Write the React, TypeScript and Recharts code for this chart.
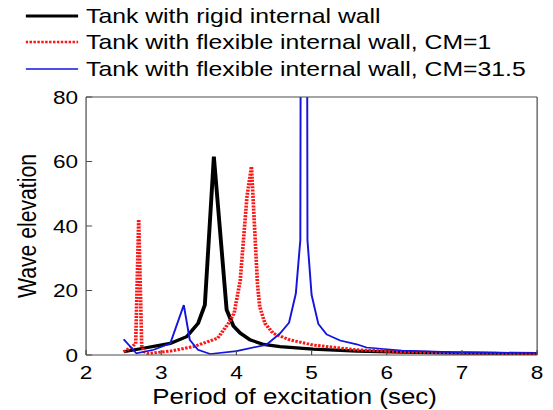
import { Legend, Line, LineChart, XAxis, YAxis } from "recharts";

// periods (sec) and wave elevations
const rigidX = [2.5, 2.76, 3.12, 3.34, 3.49, 3.58, 3.7, 3.87, 3.96, 4.05, 4.18, 4.36, 4.58, 5.02, 5.6, 6.2, 7.0, 8.0];
const rigidY = [1.0, 2.1, 3.6, 5.7, 9.8, 15.5, 61.5, 14, 9, 6.8, 4.7, 3.3, 2.6, 1.8, 1.2, 0.9, 0.6, 0.4];

const flexCm1X = [2.5, 2.6, 2.66, 2.7, 2.74, 2.77, 2.83, 3.12, 3.43, 3.75, 3.9, 3.97, 4.05, 4.14, 4.2, 4.28, 4.31, 4.38, 4.49, 4.71, 5.02, 5.6, 6.2, 7.0, 8.0];
const flexCm1Y = [1.0, 2.4, 3.5, 42, 3, 1.0, 0.5, 1.2, 2.6, 5.2, 10, 13, 23, 49, 58.4, 22, 15, 9.8, 6.7, 4.7, 3.1, 1.6, 1.0, 0.6, 0.4];

const flexCm315X = [2.5, 2.67, 2.9, 3.12, 3.3, 3.38, 3.49, 3.65, 4.0, 4.4, 4.58, 4.7, 4.79, 4.85, 4.9, 4.945, 5.0, 5.09, 5.2, 5.38, 5.6, 5.73, 6.2, 6.85, 8.0];
const flexCm315Y = [4.9, 0.5, 1.6, 3.6, 15.5, 4.7, 1.6, 0.3, 1.2, 3.2, 6.7, 10, 19, 35.6, 700, 35.6, 18.6, 9.6, 6.4, 4.5, 3.3, 2.3, 1.4, 0.9, 0.6];

const xTicks = [2, 3, 4, 5, 6, 7, 8];
const yTicks = [0, 20, 40, 60, 80];

const toRows = (xs: number[], ys: number[]) => xs.map((x, i) => ({ x, y: ys[i] }));

const series = [
  { name: "Tank with rigid internal wall", data: toRows(rigidX, rigidY), color: "#000000", width: 3.2, dash: undefined, legendWidth: 3 },
  { name: "Tank with flexible internal wall, CM=1", data: toRows(flexCm1X, flexCm1Y), color: "#ff1414", width: 3, dash: "2 1.2", legendWidth: 2.5 },
  { name: "Tank with flexible internal wall, CM=31.5", data: toRows(flexCm315X, flexCm315Y), color: "#1414e0", width: 1.6, dash: undefined, legendWidth: 1.6 },
];

// the source image is stretched horizontally
const W = 453;
const H = 410;
const SX = 553 / W;
const axisColor = "#4d4d4d";

const renderLegend = () => (
  <div style={{ position: "relative", width: W, height: 84 }}>
    {series.map((s, i) => (
      <div
        key={s.name}
        style={{
          position: "absolute",
          left: 20.5,
          top: 2.5 + i * 26.7,
          height: 26,
          display: "flex",
          alignItems: "center",
          whiteSpace: "nowrap",
        }}
      >
        <svg width={43.5} height={6}>
          <line x1={0} x2={43.5} y1={3} y2={3} stroke={s.color} strokeWidth={s.legendWidth} strokeDasharray={s.dash} />
        </svg>
        <span style={{ marginLeft: 6.5, fontSize: 20.3, lineHeight: "26px", color: "#000" }}>{s.name}</span>
      </div>
    ))}
  </div>
);

const App = () => {
  return (
    <div
      style={{
        position: "absolute",
        left: 0,
        top: 0,
        width: W,
        height: H,
        transform: `scaleX(${SX})`,
        transformOrigin: "0 0",
        fontFamily: "'Liberation Sans', Arial, sans-serif",
        background: "#fff",
      }}
    >
      <LineChart width={W} height={H} margin={{ top: 0, right: 0, bottom: 0, left: 0 }}>
        <XAxis
          dataKey="x"
          type="number"
          domain={[2, 8]}
          ticks={xTicks}
          allowDataOverflow
          height={55}
          stroke={axisColor}
          tickSize={-5}
          tickMargin={16}
          tick={{ fill: "#000", fontSize: 18.5 }}
          label={{
            value: "Period of excitation (sec)",
            position: "insideBottom",
            offset: 5.6,
            dx: -14,
            style: { fill: "#000", fontSize: 21.2 },
          }}
        />
        <XAxis
          xAxisId="top"
          orientation="top"
          type="number"
          domain={[2, 8]}
          ticks={xTicks}
          height={97}
          stroke={axisColor}
          tickSize={-5}
          tick={false}
        />
        <YAxis
          type="number"
          domain={[0, 80]}
          ticks={yTicks}
          allowDataOverflow
          width={70.5}
          stroke={axisColor}
          tickSize={-5}
          tickMargin={11.5}
          tick={{ fill: "#000", fontSize: 18.5 }}
          label={{
            value: "Wave elevation",
            angle: -90,
            position: "insideLeft",
            offset: 22,
            style: { fill: "#000", fontSize: 21.2, textAnchor: "middle" },
          }}
        />
        <YAxis
          yAxisId="right"
          orientation="right"
          type="number"
          domain={[0, 80]}
          ticks={yTicks}
          width={13}
          stroke={axisColor}
          tickSize={-5}
          tick={false}
        />
        <Legend
          layout="horizontal"
          verticalAlign="middle"
          align="center"
          wrapperStyle={{ left: 0, top: 0, width: W }}
          content={renderLegend}
        />
        {series.map((s) => (
          <Line
            key={s.name}
            data={s.data}
            dataKey="y"
            name={s.name}
            type="linear"
            stroke={s.color}
            strokeWidth={s.width}
            strokeDasharray={s.dash}
            dot={false}
            activeDot={false}
            isAnimationActive={false}
          />
        ))}
      </LineChart>
    </div>
  );
};

export default App;
